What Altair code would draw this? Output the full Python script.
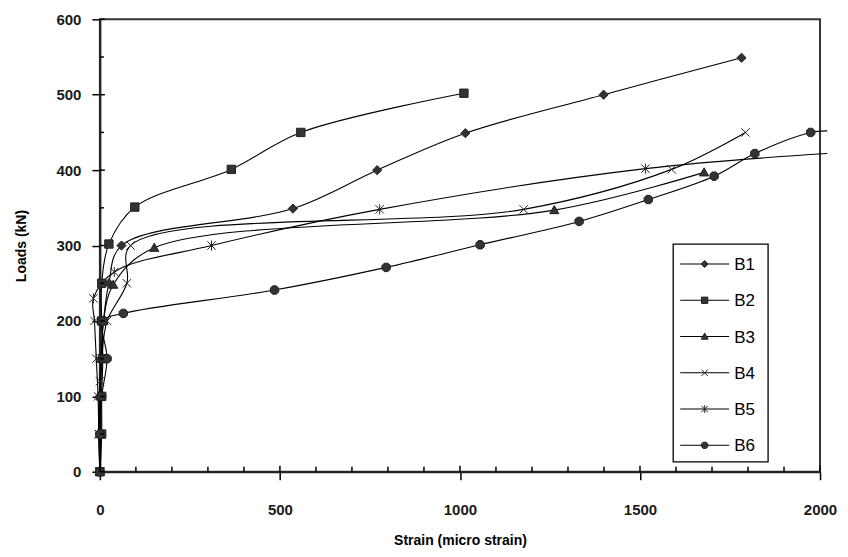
import altair as alt
import pandas as pd

# ---------------- data ----------------
series_names = ["B1", "B2", "B3", "B4", "B5", "B6"]

b1_strain = [0, 0, 0, 3, 10, 25, 60, 536, 770, 1015, 1399, 1782]
b1_load = [0, 50, 100, 150, 200, 250, 300, 349, 400, 449, 500, 549]

b2_strain = [0, 5, 5, 8, 5, 5, 25, 97, 365, 558, 1011]
b2_load = [0, 50, 100, 150, 200, 250, 302, 351, 401, 450, 502]

b3_strain = [0, 0, 2, 5, 10, 37, 151, 1262, 1678]
b3_load = [0, 50, 100, 150, 200, 248, 297, 347, 397]

b4_strain = [0, -3, 0, 5, 20, 75, 85, 1177, 1588, 1793]
b4_load = [0, 50, 120, 150, 200, 250, 300, 348, 401, 450]

b5_strain = [0, -3, -5, -10, -15, -18, 40, 310, 777, 1515, 2020]
b5_load = [0, 50, 100, 150, 200, 230, 265, 300, 348, 402, 422]

b6_strain = [0, 0, 5, 20, 9, 65, 485, 795, 1056, 1331, 1523, 1706, 1819, 1974, 2020]
b6_load = [0, 50, 100, 150, 200, 210, 241, 271, 301, 332, 361, 392, 422, 450, 452]

x_major = [0, 500, 1000, 1500, 2000]
x_minor = [v for v in range(100, 2000, 100) if v % 500 != 0]
y_major = [0, 100, 200, 300, 400, 500, 600]
y_minor = [50, 150, 250, 350, 450, 550]

# ---------------- build table ----------------
rows = []
for name, xs, ys in [
    ("B1", b1_strain, b1_load),
    ("B2", b2_strain, b2_load),
    ("B3", b3_strain, b3_load),
    ("B4", b4_strain, b4_load),
    ("B5", b5_strain, b5_load),
    ("B6", b6_strain, b6_load),
]:
    for i, (sx, ly) in enumerate(zip(xs, ys)):
        rows.append({"series": name, "strain": sx, "load": ly, "idx": i})
df = pd.DataFrame(rows)

legend_df = pd.DataFrame({"series": series_names, "i": list(range(len(series_names)))})

# ---------------- marker shapes ----------------
def scale_path(cmds, k):
    out = []
    for c in cmds:
        if isinstance(c, str):
            out.append(c)
        else:
            out.append("%g,%g" % (c[0] * k, c[1] * k))
    return "".join(out)

marker_cmds = {
    "B1": ["M", (0, -1.1), "L", (1.1, 0), "L", (0, 1.1), "L", (-1.1, 0), "Z"],
    "B2": ["M", (-1, -1), "L", (1, -1), "L", (1, 1), "L", (-1, 1), "Z"],
    "B3": ["M", (0, -1.1), "L", (1.1, 0.85), "L", (-1.1, 0.85), "Z"],
    "B4": ["M", (-1, -1), "L", (1, 1), "M", (-1, 1), "L", (1, -1)],
    "B5": ["M", (-1, -1), "L", (1, 1), "M", (-1, 1), "L", (1, -1), "M", (0, -1.2), "L", (0, 1.2)],
    "B6": ["M", (-0.45, -1), "L", (0.45, -1), "L", (1, -0.45), "L", (1, 0.45), "L", (0.45, 1),
           "L", (-0.45, 1), "L", (-1, 0.45), "L", (-1, -0.45), "Z"],
}
marker_paths = [scale_path(marker_cmds[n], 1.0) for n in series_names]
shape_scale = alt.Scale(domain=series_names, range=marker_paths)

W, H = 721, 453
FONT = "Liberation Sans"

xscale = alt.Scale(domain=[0, 2000], nice=False, zero=False)
yscale = alt.Scale(domain=[0, 600], nice=False, zero=False)

x_axis = alt.Axis(values=x_major, title="Strain (micro strain)", grid=False, format="d",
                  tickSize=8, labelPadding=23, titlePadding=16)
y_axis = alt.Axis(values=y_major, title="Loads (kN)", grid=False, format="d",
                  tickSize=8, labelPadding=11, titlePadding=27)

lines = alt.Chart(df).mark_line(
    color="black", strokeWidth=1.1, interpolate="catmull-rom"
).encode(
    x=alt.X("strain:Q", scale=xscale, axis=x_axis),
    y=alt.Y("load:Q", scale=yscale, axis=y_axis),
    detail="series:N",
    order="idx:Q",
)

points = alt.Chart(df).transform_filter(
    "datum.strain <= 2000"
).mark_point(
    filled=True, fill="#333333", stroke="#222222", strokeWidth=1, opacity=1, size=70
).encode(
    x=alt.X("strain:Q", scale=xscale, axis=x_axis),
    y=alt.Y("load:Q", scale=yscale, axis=y_axis),
    shape=alt.Shape("series:N", scale=shape_scale, legend=None),
)

ytick_df = pd.DataFrame({"strain": [0] * len(y_major), "load": y_major})
yminor_df = pd.DataFrame({"strain": [0] * len(y_minor), "load": y_minor})
xtick_df = pd.DataFrame({"strain": x_major, "load": [0] * len(x_major)})
xminor_df = pd.DataFrame({"strain": x_minor, "load": [0] * len(x_minor)})

y_inner = alt.Chart(ytick_df).mark_rule(color="black", strokeWidth=1.5).encode(
    y=alt.Y("load:Q", scale=yscale, axis=y_axis), x=alt.value(0), x2=alt.value(5))
y_min = alt.Chart(yminor_df).mark_rule(color="black", strokeWidth=1.5).encode(
    y=alt.Y("load:Q", scale=yscale, axis=y_axis), x=alt.value(0), x2=alt.value(4))
x_inner = alt.Chart(xtick_df).mark_rule(color="black", strokeWidth=1.5).encode(
    x=alt.X("strain:Q", scale=xscale, axis=x_axis), y=alt.value(H), y2=alt.value(H - 6))
x_min = alt.Chart(xminor_df).mark_rule(color="black", strokeWidth=1.5).encode(
    x=alt.X("strain:Q", scale=xscale, axis=x_axis), y=alt.value(H), y2=alt.value(H - 5))

# ---------------- legend (boxed, line + marker + label) ----------------
LX0, LX1, LY0, LY1 = 574, 669, 225, 443
legend_box = alt.Chart(legend_df).transform_filter("datum.i == 0").mark_rect(
    fill="white", stroke="black", strokeWidth=1.3
).encode(x=alt.value(LX0), x2=alt.value(LX1), y=alt.value(LY0), y2=alt.value(LY1))

leg_base = alt.Chart(legend_df).transform_calculate(ly="245 + 36.3 * datum.i")
leg_lines = leg_base.mark_rule(color="black", strokeWidth=1.1).encode(
    x=alt.value(581), x2=alt.value(630), y=alt.Y("ly:Q", scale=None))
leg_marks = leg_base.mark_point(
    filled=True, fill="#333333", stroke="#222222", strokeWidth=1, opacity=1, size=40
).encode(
    x=alt.value(605.5), y=alt.Y("ly:Q", scale=None),
    shape=alt.Shape("series:N", scale=shape_scale, legend=None))
leg_text = leg_base.mark_text(
    align="left", baseline="middle", fontSize=17, font=FONT, color="black", dy=1
).encode(x=alt.value(635), y=alt.Y("ly:Q", scale=None), text="series:N")

chart = alt.layer(
    lines, points, y_inner, y_min, x_inner, x_min,
    legend_box, leg_lines, leg_marks, leg_text
).properties(
    width=W, height=H,
    autosize=alt.AutoSizeParams(type="none"),
    padding={"left": 92, "top": 11, "right": 20, "bottom": 77},
).configure_view(
    stroke="#333333", strokeWidth=2
).configure_axis(
    domainColor="#222222", domainWidth=2, tickColor="black", tickWidth=1.5,
    labelFont=FONT, labelFontSize=15, labelFontWeight="bold", labelColor="#1a1a1a",
    titleFont=FONT, titleFontSize=14, titleFontWeight="bold", titleColor="black",
).configure_axisX(labelFlush=False).configure_axisY(labelFlush=False)

chart.save("out.html", embed_options={"renderer": "svg", "actions": False})
